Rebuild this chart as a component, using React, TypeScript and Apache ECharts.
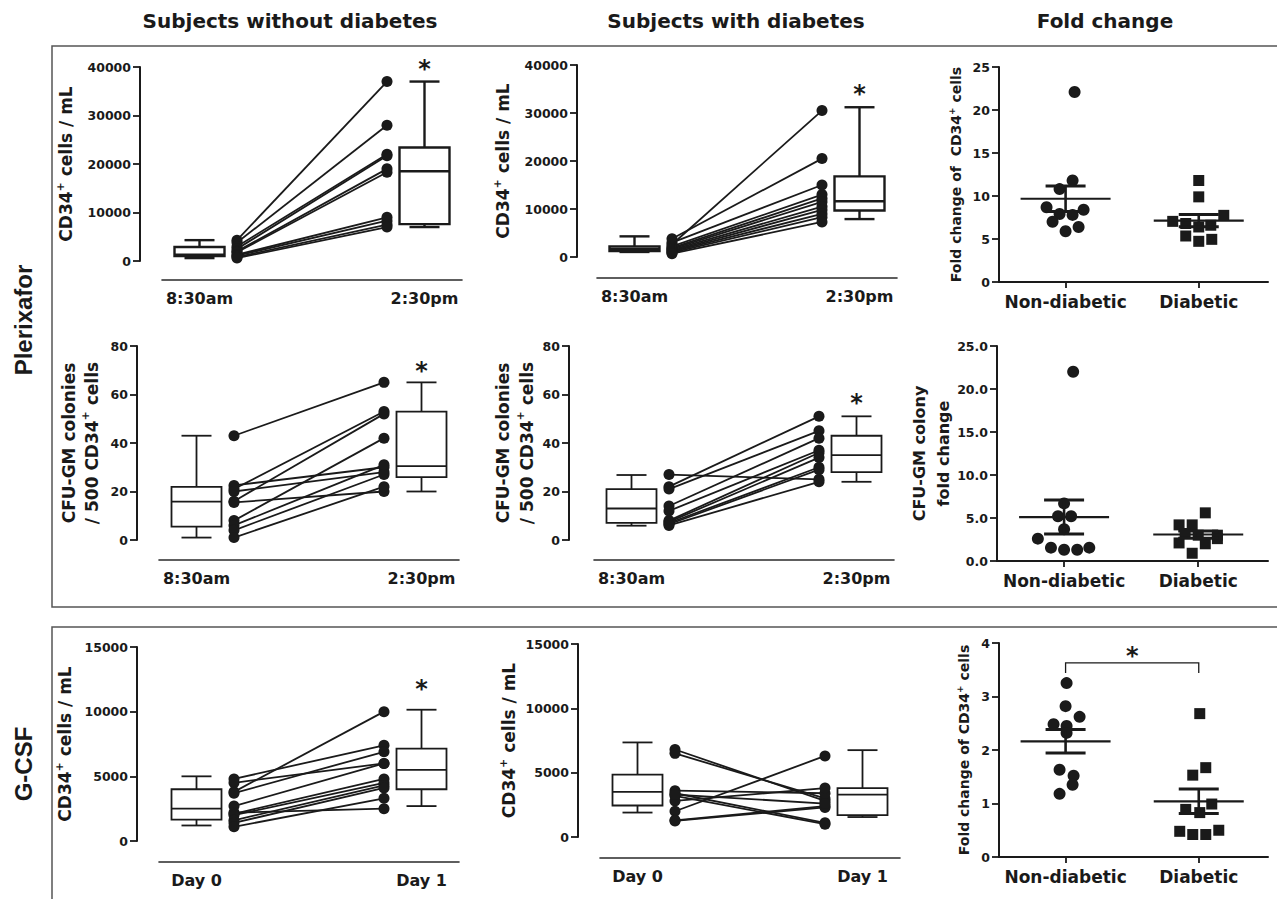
import React, { useEffect, useRef } from "react";
import * as echarts from "echarts";

const FONT = "'DejaVu Sans', Verdana, sans-serif";
const ROW_FONT = "'Liberation Sans Narrow', 'Liberation Sans', Arial, sans-serif";
const INK = "#1a1a1a";
const FRAME = "#555555";

// ---------- text ----------
const columnTitles = ["Subjects without diabetes", "Subjects with diabetes", "Fold change"];
const rowTitles = ["Plerixafor", "G-CSF"];
const plerixaforTimes = ["8:30am", "2:30pm"];
const gcsfTimes = ["Day 0", "Day 1"];
const groupLabels = ["Non-diabetic", "Diabetic"];

// ---------- Plerixafor, without diabetes: CD34+ cells / mL ----------
const plxNdCd34Am = [4300, 3800, 3000, 2500, 2000, 1800, 1300, 1100, 800, 600];
const plxNdCd34Pm = [37000, 28000, 22000, 21700, 19000, 18300, 9000, 8300, 7500, 7000];
const plxNdCd34BoxAm = [600, 1000, 1300, 2900, 4300];
const plxNdCd34BoxPm = [7000, 7600, 18500, 23400, 37000];

// ---------- Plerixafor, with diabetes: CD34+ cells / mL ----------
const plxDCd34Am = [2600, 3800, 3000, 2200, 1900, 1700, 1500, 1300, 1100, 900, 700];
const plxDCd34Pm = [30500, 20500, 15000, 13000, 12200, 11500, 10500, 9800, 9000, 8300, 7300];
const plxDCd34BoxAm = [1050, 1250, 1600, 2200, 4300];
const plxDCd34BoxPm = [7900, 9700, 11600, 16800, 31200];

// ---------- Plerixafor, without diabetes: CFU-GM ----------
const plxNdCfuAm = [43, 22.5, 21, 20, 16, 15.5, 8, 6, 4, 1];
const plxNdCfuPm = [65, 30, 53, 28, 52, 20, 42, 31, 27, 22];
const plxNdCfuBoxAm = [1, 5.5, 15.8, 21.9, 43];
const plxNdCfuBoxPm = [20, 25.9, 30.5, 52.9, 65];

// ---------- Plerixafor, with diabetes: CFU-GM ----------
const plxDCfuAm = [27, 22, 21, 14, 12, 8, 7.5, 7, 6.5, 6];
const plxDCfuPm = [25, 51, 45, 42, 37, 36, 34, 30, 29, 24];
const plxDCfuBoxAm = [5.9, 7.1, 13, 21, 26.8];
const plxDCfuBoxPm = [24, 28, 35, 43, 51];

// ---------- G-CSF, without diabetes ----------
const gcsfNdDay0 = [4800, 4500, 3800, 3700, 2700, 2200, 2100, 2000, 1600, 1400, 1100];
const gcsfNdDay1 = [7400, 6000, 10000, 6900, 6000, 2500, 4800, 4500, 4300, 4100, 3300];
const gcsfNdBoxDay0 = [1200, 1650, 2500, 4000, 5000];
const gcsfNdBoxDay1 = [2700, 4000, 5500, 7150, 10150];

// ---------- G-CSF, with diabetes ----------
const gcsfDDay0 = [6800, 6500, 3600, 3400, 3200, 2800, 2000, 1300, 1250, 3300];
const gcsfDDay1 = [2800, 3000, 3400, 1100, 1000, 3800, 6300, 2400, 2300, 2600];
const gcsfDBoxDay0 = [1900, 2450, 3500, 4850, 7350];
const gcsfDBoxDay1 = [1550, 1700, 3300, 3800, 6750];

// ---------- fold changes ----------
const plxCd34FoldNd = [22.1, 11.8, 10.8, 8.7, 8.4, 7.9, 7.8, 7.0, 6.4, 5.9];
const plxCd34FoldD = [11.8, 9.9, 7.75, 7.05, 6.8, 6.6, 6.4, 5.35, 4.96, 4.73];
const plxCfuFoldNd = [22.0, 6.7, 5.2, 5.2, 3.7, 2.6, 1.55, 1.55, 1.3, 1.3];
const plxCfuFoldD = [5.6, 4.2, 4.2, 3.2, 3.0, 3.0, 2.6, 2.1, 2.0, 0.9];
const gcsfFoldNd = [3.25, 2.82, 2.62, 2.48, 2.45, 2.32, 1.63, 1.52, 1.35, 1.18];
const gcsfFoldD = [2.68, 1.67, 1.53, 0.99, 0.89, 0.83, 0.5, 0.48, 0.42, 0.42];

// horizontal scatter (beeswarm) offsets, in pixels
const jitterCd34FoldNd = [9, 7, -6, -19, 18, -6, 7, -13, 13, 0];
const jitterCd34FoldD = [0, 0, 25, -26, -13, 12, 0, -13, 13, 0];
const jitterCfuFoldNd = [9, 0, -6, 7, 0, -26, -13, 25, 0, 13];
const jitterCfuFoldD = [7, -19, -6, -13, 19, 0, 19, -19, 7, -6];
const jitterGcsfFoldNd = [1, 0, 14, -12, 1, 1, -6, 8, 7, -6];
const jitterGcsfFoldD = [1, 7, -6, 13, -13, 1, 20, -19, -6, 7];

// significance annotations (y values)
const starPlxNdCd34 = 40800;
const starPlxDCd34 = 35200;
const starPlxNdCfu = 72;
const starPlxDCfu = 59;
const starGcsfNd = 12200;
const gcsfBracket = [3.44, 3.63, 3.87]; // tick foot, bracket, star

// ---------- layout (not data) ----------
const POS_BOX_BEFORE = 0;
const POS_DOTS_BEFORE = 0.5;
const POS_DOTS_AFTER = 2.5;
const POS_BOX_AFTER = 3;
const PAIR_X_MIN = -0.5;
const PAIR_X_MAX = 3.5;
const GROUP_X_MIN = 0.5;
const GROUP_X_MAX = 2.52;
const PX_PER_GROUP = 133;
const BOX_HALF = 25;
const CAP_HALF = 15;

const mean = (a: number[]) => a.reduce((s, v) => s + v, 0) / a.length;
const sem = (a: number[]) => {
  const m = mean(a);
  const v = a.reduce((s, x) => s + (x - m) * (x - m), 0) / (a.length - 1);
  return Math.sqrt(v) / Math.sqrt(a.length);
};

const tickLabel = { color: INK, fontFamily: FONT, fontWeight: "bold" as const, fontSize: 12.5 };

function nameStyle(size: number, lh: number) {
  return {
    color: INK,
    fontFamily: FONT,
    fontWeight: "bold" as const,
    fontSize: size,
    lineHeight: lh,
    rich: {
      a: { color: INK, fontFamily: FONT, fontWeight: "bold", fontSize: size, lineHeight: lh },
      s: { color: INK, fontFamily: FONT, fontWeight: "bold", fontSize: Math.round(size * 0.62), lineHeight: lh, verticalAlign: "top" },
    },
  };
}

function boxRender(lw: number) {
  return (params: any, api: any) => {
    const x = api.value(0);
    const c = (v: number) => api.coord([x, v]);
    const pMin = c(api.value(1));
    const pQ1 = c(api.value(2));
    const pMed = c(api.value(3));
    const pQ3 = c(api.value(4));
    const pMax = c(api.value(5));
    const cx = pMed[0];
    const st = { stroke: INK, lineWidth: lw, fill: null };
    return {
      type: "group",
      children: [
        { type: "line", shape: { x1: cx, y1: pQ3[1], x2: cx, y2: pMax[1] }, style: st },
        { type: "line", shape: { x1: cx, y1: pQ1[1], x2: cx, y2: pMin[1] }, style: st },
        { type: "line", shape: { x1: cx - CAP_HALF, y1: pMax[1], x2: cx + CAP_HALF, y2: pMax[1] }, style: st },
        { type: "line", shape: { x1: cx - CAP_HALF, y1: pMin[1], x2: cx + CAP_HALF, y2: pMin[1] }, style: st },
        {
          type: "rect",
          shape: { x: cx - BOX_HALF, y: pQ3[1], width: BOX_HALF * 2, height: pQ1[1] - pQ3[1] },
          style: { stroke: INK, lineWidth: lw, fill: "#ffffff" },
        },
        { type: "line", shape: { x1: cx - BOX_HALF, y1: pMed[1], x2: cx + BOX_HALF, y2: pMed[1] }, style: st },
      ],
    };
  };
}

function starRender(params: any, api: any) {
  const p = api.coord([api.value(0), api.value(1)]);
  return {
    type: "text",
    x: p[0],
    y: p[1] + 6,
    style: {
      text: "*",
      fill: INK,
      font: `bold 24px ${FONT}`,
      align: "center",
      verticalAlign: "middle",
      textAlign: "center",
      textVerticalAlign: "middle",
    },
  };
}

type PairedCfg = {
  before: number[];
  after: number[];
  boxBefore: number[];
  boxAfter: number[];
  star: number | null;
  labels: string[];
  yMax: number;
  yStep: number;
  yName: string;
  nameSize: number;
  nameLH: number;
  boxLw: number;
  layout: { left: number; top: number; height: number; yOffset: number; xOffset: number; nameGap: number };
};

type GroupCfg = {
  nd: number[];
  d: number[];
  jNd: number[];
  jD: number[];
  yMax: number;
  yStep: number;
  decimals: number;
  yName: string;
  nameSize: number;
  nameLH: number;
  layout: { left: number; top: number; width: number; height: number; nameGap: number };
  bracket: number[] | null;
};

const pairedPanels: PairedCfg[] = [
  {
    before: plxNdCd34Am, after: plxNdCd34Pm, boxBefore: plxNdCd34BoxAm, boxAfter: plxNdCd34BoxPm,
    star: starPlxNdCd34, labels: plerixaforTimes, yMax: 40000, yStep: 10000,
    yName: "{a|CD34}{s|+}{a| cells / mL}", nameSize: 17, nameLH: 22, boxLw: 2.4,
    layout: { left: 162, top: 67, height: 194, yOffset: 22, xOffset: 19, nameGap: 63 },
  },
  {
    before: plxDCd34Am, after: plxDCd34Pm, boxBefore: plxDCd34BoxAm, boxAfter: plxDCd34BoxPm,
    star: starPlxDCd34, labels: plerixaforTimes, yMax: 40000, yStep: 10000,
    yName: "{a|CD34}{s|+}{a| cells / mL}", nameSize: 17, nameLH: 22, boxLw: 2.4,
    layout: { left: 597, top: 65, height: 192, yOffset: 20, xOffset: 21, nameGap: 63 },
  },
  {
    before: plxNdCfuAm, after: plxNdCfuPm, boxBefore: plxNdCfuBoxAm, boxAfter: plxNdCfuBoxPm,
    star: starPlxNdCfu, labels: plerixaforTimes, yMax: 80, yStep: 20,
    yName: "{a|CFU-GM colonies}\n{a|/ 500 CD34}{s|+}{a| cells}", nameSize: 17, nameLH: 23, boxLw: 1.8,
    layout: { left: 159, top: 346, height: 194, yOffset: 22, xOffset: 20, nameGap: 34 },
  },
  {
    before: plxDCfuAm, after: plxDCfuPm, boxBefore: plxDCfuBoxAm, boxAfter: plxDCfuBoxPm,
    star: starPlxDCfu, labels: plerixaforTimes, yMax: 80, yStep: 20,
    yName: "{a|CFU-GM colonies}\n{a|/ 500 CD34}{s|+}{a| cells}", nameSize: 17, nameLH: 24, boxLw: 1.8,
    layout: { left: 594, top: 346, height: 194, yOffset: 25, xOffset: 20, nameGap: 30 },
  },
  {
    before: gcsfNdDay0, after: gcsfNdDay1, boxBefore: gcsfNdBoxDay0, boxAfter: gcsfNdBoxDay1,
    star: starGcsfNd, labels: gcsfTimes, yMax: 15000, yStep: 5000,
    yName: "{a|CD34}{s|+}{a| cells / mL}", nameSize: 17, nameLH: 22, boxLw: 1.8,
    layout: { left: 159, top: 647, height: 194, yOffset: 22, xOffset: 21, nameGap: 61 },
  },
  {
    before: gcsfDDay0, after: gcsfDDay1, boxBefore: gcsfDBoxDay0, boxAfter: gcsfDBoxDay1,
    star: null, labels: gcsfTimes, yMax: 15000, yStep: 5000,
    yName: "{a|CD34}{s|+}{a| cells / mL}", nameSize: 17, nameLH: 22, boxLw: 1.8,
    layout: { left: 600, top: 644, height: 193, yOffset: 22, xOffset: 21, nameGap: 58 },
  },
];

const groupPanels: GroupCfg[] = [
  {
    nd: plxCd34FoldNd, d: plxCd34FoldD, jNd: jitterCd34FoldNd, jD: jitterCd34FoldD,
    yMax: 25, yStep: 5, decimals: 0, yName: "{a|Fold change of  CD34}{s|+}{a| cells}", nameSize: 14, nameLH: 18,
    layout: { left: 999, top: 67, width: 269, height: 215, nameGap: 34 }, bracket: null,
  },
  {
    nd: plxCfuFoldNd, d: plxCfuFoldD, jNd: jitterCfuFoldNd, jD: jitterCfuFoldD,
    yMax: 25, yStep: 5, decimals: 1, yName: "{a|CFU-GM colony}\n{a|fold change}", nameSize: 16, nameLH: 24,
    layout: { left: 997, top: 346, width: 271, height: 215, nameGap: 42 }, bracket: null,
  },
  {
    nd: gcsfFoldNd, d: gcsfFoldD, jNd: jitterGcsfFoldNd, jD: jitterGcsfFoldD,
    yMax: 4, yStep: 1, decimals: 0, yName: "{a|Fold change of CD34}{s|+}{a| cells}", nameSize: 14, nameLH: 18,
    layout: { left: 999, top: 643, width: 269, height: 214, nameGap: 26 }, bracket: gcsfBracket,
  },
];

function buildOption() {
  const grid: any[] = [];
  const xAxis: any[] = [];
  const yAxis: any[] = [];
  const series: any[] = [];

  pairedPanels.forEach((p) => {
    const k = grid.length;
    const L = p.layout;
    grid.push({ left: L.left, top: L.top, width: 300, height: L.height, containLabel: false });
    xAxis.push({
      gridIndex: k, type: "value", min: PAIR_X_MIN, max: PAIR_X_MAX, offset: L.xOffset,
      axisLine: { show: true, onZero: false, lineStyle: { color: "#2a2a2a", width: 1.6 } },
      axisTick: { show: false },
      splitLine: { show: false },
      axisLabel: {
        ...tickLabel, fontSize: 16, margin: 10,
        customValues: [POS_BOX_BEFORE, POS_BOX_AFTER],
        formatter: (v: number) => (Math.abs(v - POS_BOX_BEFORE) < 1e-6 ? p.labels[0] : p.labels[1]),
      },
    });
    yAxis.push({
      gridIndex: k, type: "value", min: 0, max: p.yMax, interval: p.yStep, offset: L.yOffset,
      axisLine: { show: true, onZero: false, lineStyle: { color: INK, width: 2 } },
      axisTick: { show: true, length: 7, lineStyle: { color: INK, width: 1.8 } },
      axisLabel: { ...tickLabel, margin: 9, formatter: (v: number) => String(v) },
      splitLine: { show: false },
      name: p.yName, nameLocation: "middle", nameRotate: 90, nameGap: L.nameGap, nameMoveOverlap: false,
      nameTextStyle: nameStyle(p.nameSize, p.nameLH),
    });
    series.push({
      type: "custom", xAxisIndex: k, yAxisIndex: k, silent: true, z: 2,
      renderItem: boxRender(p.boxLw),
      encode: { x: 0, y: [1, 2, 3, 4, 5] },
      data: [[POS_BOX_BEFORE, ...p.boxBefore], [POS_BOX_AFTER, ...p.boxAfter]],
    });
    p.before.forEach((b, i) => {
      series.push({
        type: "line", xAxisIndex: k, yAxisIndex: k, silent: true, z: 3,
        symbol: "circle", symbolSize: 11, showSymbol: true,
        itemStyle: { color: INK, borderWidth: 0, opacity: 1 },
        lineStyle: { color: INK, width: 1.8 },
        data: [[POS_DOTS_BEFORE, b], [POS_DOTS_AFTER, p.after[i]]],
      });
    });
    if (p.star !== null) {
      series.push({
        type: "custom", xAxisIndex: k, yAxisIndex: k, silent: true, z: 4,
        renderItem: starRender, encode: { x: 0, y: 1 },
        data: [[POS_BOX_AFTER, p.star]],
      });
    }
  });

  groupPanels.forEach((g) => {
    const k = grid.length;
    const L = g.layout;
    grid.push({ left: L.left, top: L.top, width: L.width, height: L.height, containLabel: false });
    xAxis.push({
      gridIndex: k, type: "value", min: GROUP_X_MIN, max: GROUP_X_MAX,
      axisLine: { show: true, onZero: false, lineStyle: { color: INK, width: 2 } },
      axisTick: { show: true, length: 6, lineStyle: { color: INK, width: 1.8 }, customValues: [1, 2] },
      splitLine: { show: false },
      axisLabel: {
        ...tickLabel, fontSize: 17, margin: 11, customValues: [1, 2],
        formatter: (v: number) => groupLabels[Math.round(v) - 1] ?? "",
      },
    });
    yAxis.push({
      gridIndex: k, type: "value", min: 0, max: g.yMax, interval: g.yStep,
      axisLine: { show: true, onZero: false, lineStyle: { color: INK, width: 2 } },
      axisTick: { show: true, length: 7, lineStyle: { color: INK, width: 1.8 } },
      axisLabel: { ...tickLabel, margin: 9, formatter: (v: number) => v.toFixed(g.decimals) },
      splitLine: { show: false },
      name: g.yName, nameLocation: "middle", nameRotate: 90, nameGap: L.nameGap, nameMoveOverlap: false,
      nameTextStyle: nameStyle(g.nameSize, g.nameLH),
    });
    series.push({
      type: "scatter", xAxisIndex: k, yAxisIndex: k, silent: true, z: 3,
      symbol: "circle", symbolSize: 12, itemStyle: { color: INK, opacity: 1 },
      data: g.nd.map((v, i) => [1 + g.jNd[i] / PX_PER_GROUP, v]),
    });
    series.push({
      type: "scatter", xAxisIndex: k, yAxisIndex: k, silent: true, z: 3,
      symbol: "rect", symbolSize: 11, itemStyle: { color: INK, opacity: 1 },
      data: g.d.map((v, i) => [2 + g.jD[i] / PX_PER_GROUP, v]),
    });
    series.push({
      type: "custom", xAxisIndex: k, yAxisIndex: k, silent: true, z: 5,
      encode: { x: 0, y: 1 },
      data: [[1, mean(g.nd), sem(g.nd)], [2, mean(g.d), sem(g.d)]],
      renderItem: (params: any, api: any) => {
        const x = api.value(0), m = api.value(1), s = api.value(2);
        const pm = api.coord([x, m]);
        const pt = api.coord([x, m + s]);
        const pb = api.coord([x, m - s]);
        return {
          type: "group",
          children: [
            { type: "line", shape: { x1: pm[0] - 45, y1: pm[1], x2: pm[0] + 45, y2: pm[1] }, style: { stroke: INK, lineWidth: 2.2 } },
            { type: "line", shape: { x1: pm[0], y1: pt[1], x2: pm[0], y2: pb[1] }, style: { stroke: INK, lineWidth: 2.6 } },
            { type: "line", shape: { x1: pm[0] - 20, y1: pt[1], x2: pm[0] + 20, y2: pt[1] }, style: { stroke: INK, lineWidth: 3 } },
            { type: "line", shape: { x1: pm[0] - 20, y1: pb[1], x2: pm[0] + 20, y2: pb[1] }, style: { stroke: INK, lineWidth: 3 } },
          ],
        };
      },
    });
    if (g.bracket) {
      const br = g.bracket;
      series.push({
        type: "custom", xAxisIndex: k, yAxisIndex: k, silent: true, z: 5,
        encode: { x: 0, y: 1 },
        data: [[1, br[0], br[1], br[2]]],
        renderItem: (params: any, api: any) => {
          const foot = api.value(1), top = api.value(2), st = api.value(3);
          const a0 = api.coord([1, foot]);
          const a1 = api.coord([1, top]);
          const b1 = api.coord([2, top]);
          const b0 = api.coord([2, foot]);
          const s = api.coord([1.5, st]);
          return {
            type: "group",
            children: [
              { type: "polyline", shape: { points: [a0, a1, b1, b0] }, style: { stroke: INK, lineWidth: 1.3, fill: null } },
              {
                type: "text", x: s[0], y: s[1] + 6,
                style: { text: "*", fill: INK, font: `bold 24px ${FONT}`, align: "center", verticalAlign: "middle", textAlign: "center", textVerticalAlign: "middle" },
              },
            ],
          };
        },
      });
    }
  });

  const titleX = [290, 736, 1105];
  const graphic: any[] = [
    { type: "rect", shape: { x: 52, y: 46, width: 1300, height: 561 }, style: { fill: "none", stroke: FRAME, lineWidth: 1.5 }, silent: true },
    { type: "rect", shape: { x: 52, y: 627, width: 1300, height: 400 }, style: { fill: "none", stroke: FRAME, lineWidth: 1.5 }, silent: true },
    ...columnTitles.map((t, i) => ({
      type: "text", x: titleX[i], y: 21, silent: true,
      style: { text: t, fill: INK, font: `bold 20px ${FONT}`, align: "center", verticalAlign: "middle", textAlign: "center", textVerticalAlign: "middle" },
    })),
    {
      type: "text", x: 23, y: 320, rotation: Math.PI / 2, silent: true,
      style: { text: rowTitles[0], fill: INK, font: `bold 24px ${ROW_FONT}`, align: "center", verticalAlign: "middle", textAlign: "center", textVerticalAlign: "middle" },
    },
    {
      type: "text", x: 23, y: 764, rotation: Math.PI / 2, silent: true,
      style: { text: rowTitles[1], fill: INK, font: `bold 24px ${ROW_FONT}`, align: "center", verticalAlign: "middle", textAlign: "center", textVerticalAlign: "middle" },
    },
  ];

  return {
    animation: false,
    backgroundColor: "#ffffff",
    grid, xAxis, yAxis, series, graphic,
  };
}

export default function App() {
  const ref = useRef<HTMLDivElement>(null);
  useEffect(() => {
    if (!ref.current) return;
    const chart = echarts.init(ref.current, null, { renderer: "svg", width: 1277, height: 899 });
    chart.setOption(buildOption() as any);
    return () => chart.dispose();
  }, []);
  return (
    <div
      ref={ref}
      style={{ position: "absolute", left: 0, top: 0, width: 1277, height: 899, background: "#fff" }}
    />
  );
}
